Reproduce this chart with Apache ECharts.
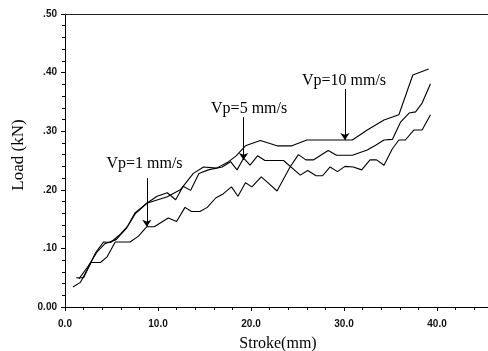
<!DOCTYPE html>
<html>
<head>
<meta charset="utf-8">
<script src="https://cdn.jsdelivr.net/npm/echarts@6/dist/echarts.min.js"></script>
<style>
  html, body { margin: 0; padding: 0; background: #fff; }
  #chart { width: 488px; height: 351px; }
</style>
</head>
<body>
<div id="chart"></div>
<script>
// Load–stroke curves for three punch speeds: [stroke mm, load kN]
const vp1 = [[0.85,0.034],[1.65,0.042],[2.8,0.076],[3.8,0.076],[4.5,0.085],[5.4,0.111],[7.0,0.111],[7.9,0.121],[8.8,0.137],[9.6,0.137],[11.1,0.152],[12.0,0.146],[12.9,0.170],[13.6,0.163],[14.5,0.163],[15.3,0.170],[16.2,0.186],[17.0,0.193],[17.9,0.205],[18.6,0.189],[19.4,0.212],[20.1,0.205],[21.1,0.222],[21.9,0.211],[22.8,0.198],[24.2,0.239],[25.1,0.260],[25.9,0.251],[26.7,0.251],[28.3,0.267],[29.2,0.259],[30.9,0.259],[32.5,0.268],[33.4,0.276],[34.3,0.285],[35.2,0.286],[36.1,0.316],[37.0,0.331],[37.7,0.333],[38.4,0.348],[39.3,0.381]];
const vp5 = [[1.2,0.050],[2.0,0.050],[3.3,0.093],[4.15,0.111],[4.9,0.110],[5.8,0.122],[6.7,0.137],[7.6,0.160],[8.8,0.177],[9.9,0.189],[11.0,0.195],[11.9,0.183],[12.7,0.206],[13.5,0.199],[14.4,0.228],[15.4,0.234],[16.9,0.239],[17.8,0.248],[18.5,0.234],[19.2,0.254],[19.9,0.242],[20.7,0.258],[21.5,0.250],[23.5,0.250],[25.3,0.225],[26.1,0.233],[27.0,0.224],[27.7,0.224],[28.5,0.239],[29.3,0.231],[30.1,0.240],[31.0,0.239],[31.9,0.234],[32.8,0.251],[33.5,0.251],[34.3,0.242],[35.2,0.270],[35.9,0.285],[36.6,0.285],[37.5,0.302],[38.4,0.302],[39.3,0.328]];
const vp10 = [[1.5,0.048],[2.5,0.070],[3.5,0.095],[4.3,0.108],[5.5,0.115],[6.6,0.134],[7.5,0.160],[8.8,0.177],[11.0,0.188],[12.4,0.200],[13.8,0.228],[14.9,0.239],[16.3,0.237],[17.6,0.248],[18.4,0.258],[19.4,0.275],[21.0,0.284],[22.8,0.275],[24.4,0.275],[26.0,0.285],[30.9,0.285],[32.5,0.302],[34.3,0.319],[35.9,0.328],[37.4,0.396],[39.1,0.406]];

// Callouts: label text, label anchor, arrow start and arrow tip (data units)
const callouts = [
  { text: 'Vp=1 mm/s',  label: [8.55, 0.245], from: [8.8, 0.220], to: [8.8, 0.137] },
  { text: 'Vp=5 mm/s',  label: [19.8, 0.338], from: [19.2, 0.324], to: [19.2, 0.251] },
  { text: 'Vp=10 mm/s', label: [30.0, 0.386], from: [30.1, 0.372], to: [30.1, 0.285] }
];

const xTicks = [0, 10, 20, 30, 40, 50];
const yTicks = [0, 0.1, 0.2, 0.3, 0.4, 0.5];

const serif = '"Liberation Serif", "DejaVu Serif", serif';
const sans = '"Liberation Sans", Arial, sans-serif';

const chart = echarts.init(document.getElementById('chart'), null, { renderer: 'canvas' });

const lineSeries = (name, data) => ({
  name, type: 'line', data, showSymbol: false, symbol: 'none',
  lineStyle: { color: '#000', width: 1.1 }, silent: true, animation: false
});

const annot = {
  type: 'line', data: [], silent: true, animation: false,
  markLine: {
    silent: true, symbol: ['none', 'arrow'], symbolSize: 7, precision: 3,
    lineStyle: { color: '#000', width: 1, type: 'solid' },
    label: { show: false },
    data: callouts.map(c => [{ coord: c.from }, { coord: c.to }])
  },
  markPoint: {
    silent: true, symbol: 'circle', symbolSize: 1,
    itemStyle: { color: 'rgba(0,0,0,0)' },
    label: { show: true, position: 'inside', color: '#000', fontFamily: serif, fontSize: 16 },
    data: callouts.map(c => ({ coord: c.label, value: c.text, label: { formatter: c.text } }))
  }
};

chart.setOption({
  backgroundColor: '#fff',
  animation: false,
  grid: { left: 65, top: 14, width: 465, height: 293, containLabel: false, outerBoundsMode: 'none' },
  xAxis: [{
    type: 'value', min: xTicks[0], max: xTicks[xTicks.length - 1], interval: 10,
    name: 'Stroke(mm)', nameLocation: 'middle', nameGap: 29,
    nameTextStyle: { fontFamily: serif, fontSize: 16, color: '#000', padding: [0, 0, 0, -39] },
    axisLine: { lineStyle: { color: '#000', width: 1 } },
    axisTick: { inside: false, length: 4, lineStyle: { color: '#000' } },
    minorTick: { show: true, splitNumber: 5, length: 3, lineStyle: { color: '#000' } },
    axisLabel: { margin: 12, fontFamily: sans, fontSize: 10, fontWeight: 'bold', color: '#111', formatter: v => v.toFixed(1) },
    splitLine: { show: false }
  }, {
    type: 'value', position: 'top', min: xTicks[0], max: xTicks[xTicks.length - 1],
    axisLine: { show: true, lineStyle: { color: '#222', width: 1 } },
    axisTick: { show: false }, axisLabel: { show: false }, splitLine: { show: false }
  }],
  yAxis: {
    type: 'value', min: yTicks[0], max: yTicks[yTicks.length - 1], interval: 0.1,
    name: 'Load (kN)', nameLocation: 'middle', nameGap: 34, nameRotate: 90,
    nameTextStyle: { fontFamily: serif, fontSize: 17, color: '#000', padding: [0, 0, 0, 11] },
    axisLine: { show: true, lineStyle: { color: '#000', width: 1 } },
    axisTick: { show: true, inside: false, length: 4, lineStyle: { color: '#000' } },
    minorTick: { show: true, splitNumber: 5, length: 3, lineStyle: { color: '#000' } },
    axisLabel: {
      margin: 8, fontFamily: sans, fontSize: 10, fontWeight: 'bold', color: '#111',
      formatter: v => v === 0 ? '0.00' : v.toFixed(2).replace(/^0/, '')
    },
    splitLine: { show: false }
  },
  series: [
    lineSeries('Vp=1 mm/s', vp1),
    lineSeries('Vp=5 mm/s', vp5),
    lineSeries('Vp=10 mm/s', vp10),
    annot
  ]
});
</script>
</body>
</html>
